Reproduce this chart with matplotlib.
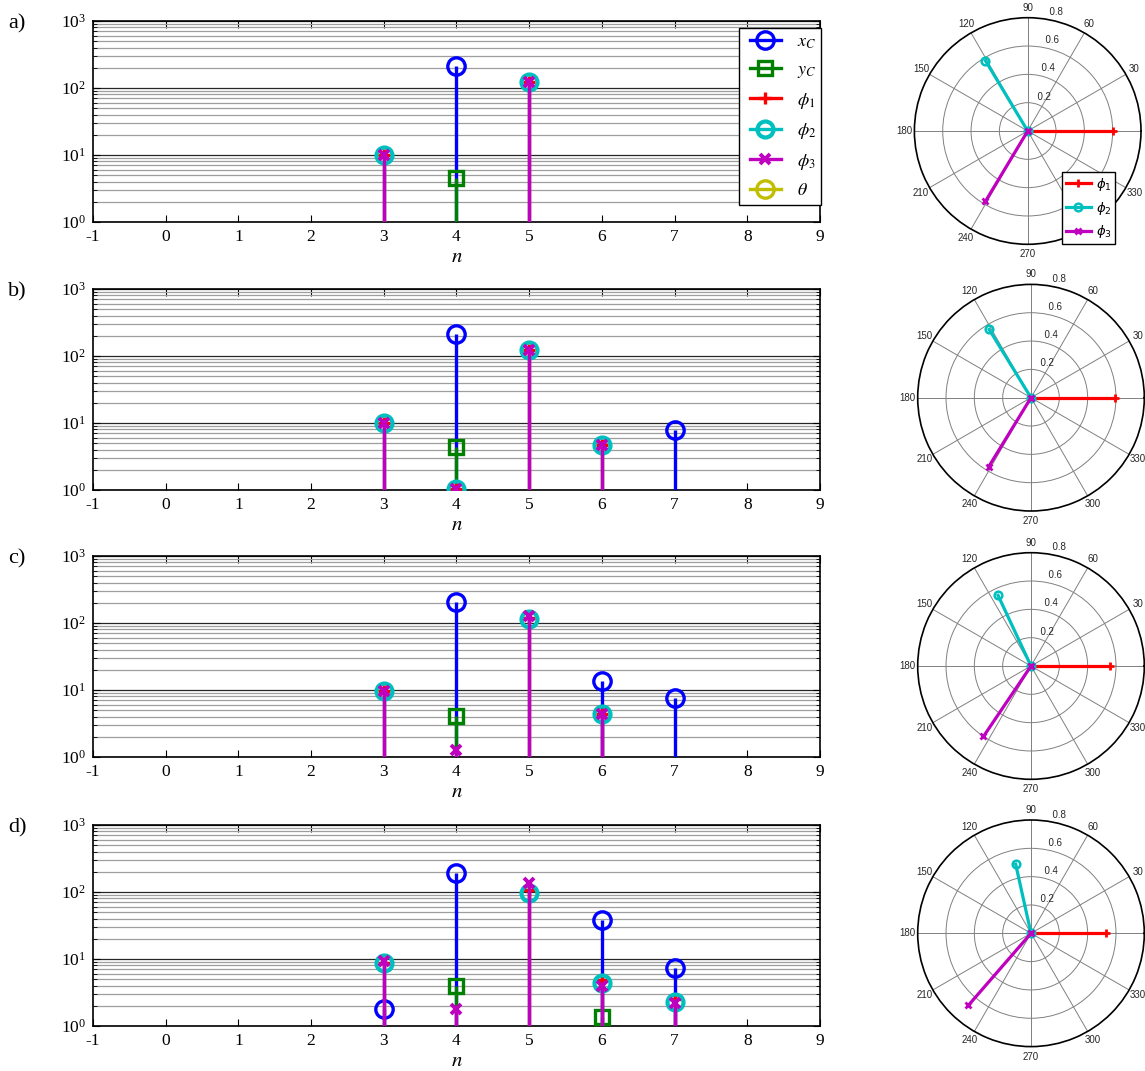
import numpy as np
import matplotlib
matplotlib.use('Agg')
import matplotlib.pyplot as plt
from matplotlib.lines import Line2D
from matplotlib.legend_handler import HandlerLine2D
from matplotlib.font_manager import FontProperties
from matplotlib.ticker import LogLocator, LogFormatterMathtext, NullFormatter

plt.rcParams['font.family'] = 'Liberation Serif'
plt.rcParams['mathtext.fontset'] = 'stix'
plt.rcParams['axes.unicode_minus'] = False

panel_labels = ['a)', 'b)', 'c)', 'd)']

# stem data per panel: sample index n and magnitude (log axis floor is 1)
xc_n = [[4], [4, 7], [4, 6, 7], [3, 4, 6, 7]]
xc_val = [[210], [211, 7.9], [203, 13.8, 7.6], [1.78, 190, 38, 7.3]]
yc_n = [[4], [4], [4], [4, 6]]
yc_val = [[4.5], [4.4], [4.1], [3.9, 1.35]]
phi1_n = [[3, 5], [3, 4, 5, 6], [3, 5, 6], [3, 5, 6, 7]]
phi1_val = [[10, 124], [10.1, 1.02, 123, 4.65], [9.5, 117, 4.4], [8.8, 107, 4.9, 2.5]]
phi2_n = [[3, 5], [3, 4, 5, 6], [3, 5, 6], [3, 5, 6, 7]]
phi2_val = [[10, 124], [10.1, 1.02, 123, 4.65], [9.5, 115, 4.4], [8.6, 98, 4.4, 2.3]]
phi3_n = [[3, 5], [3, 4, 5, 6], [3, 4, 5, 6], [3, 4, 5, 6, 7]]
phi3_val = [[10, 124], [10.1, 1.02, 123, 4.65], [9.5, 1.29, 128, 4.4], [9.3, 1.78, 138, 3.95, 2.2]]
theta_n = [0, 1, 2, 3, 4, 5, 6, 7, 8]
theta_val = [0.5, 0.5, 0.5, 0.5, 0.5, 0.5, 0.5, 0.5, 0.5]

# phasors for the polar plots (magnitude, angle in degrees)
phi1_mag = [0.60, 0.59, 0.56, 0.53]
phi1_ang = [0, 0, 0, 0]
phi2_mag = [0.58, 0.565, 0.55, 0.50]
phi2_ang = [121, 121.5, 115, 102.5]
phi3_mag = [0.58, 0.57, 0.60, 0.675]
phi3_ang = [239, 238.5, 236, 229]

# angle labels drawn round each polar plot (0 falls off the right edge of the figure)
polar_angles = [30, 60, 90, 120, 150, 180, 210, 240, 270, 300, 330]
polar_rings = [0.2, 0.4, 0.6, 0.8]

C_B = (0, 0, 1)
C_G = (0, 0.5, 0)
C_R = (1, 0, 0)
C_C = (0, 0.75, 0.75)
C_M = (0.75, 0, 0.75)
C_Y = (0.75, 0.75, 0)

stem_styles = [
    # color, marker, ms, mew, label
    (C_B, 'o', 12.5, 2.4, r'$x_C$'),
    (C_G, 's', 10, 2.4, r'$y_C$'),
    (C_R, '+', 9, 2.4, r'$\phi_1$'),
    (C_C, 'o', 11.5, 3.0, r'$\phi_2$'),
    (C_M, 'x', 7, 2.8, r'$\phi_3$'),
    (C_Y, 'o', 12.5, 2.4, r'$\theta$'),
]


class StemHandler(HandlerLine2D):
    def get_xdata(self, legend, xdescent, ydescent, width, height, fontsize):
        xm = -xdescent + width * 0.78
        return np.array([-xdescent + width * 0.12, xm]), np.array([xm])


def draw_stems(ax, n, vals, style, z):
    color, marker, ms, mew, _ = style
    ml, sl, bl = ax.stem(n, vals, bottom=1, basefmt=' ')
    sl.set_color(color)
    sl.set_linewidth(2.4)
    sl.set_zorder(z)
    ml.set_color(color)
    ml.set_marker(marker)
    ml.set_markersize(ms)
    ml.set_markerfacecolor('none')
    ml.set_markeredgewidth(mew)
    ml.set_zorder(z + 0.5)
    bl.set_visible(False)


def stem_panel(ax, k, with_legend):
    series = [(xc_n[k], xc_val[k]), (yc_n[k], yc_val[k]), (phi1_n[k], phi1_val[k]),
              (phi2_n[k], phi2_val[k]), (phi3_n[k], phi3_val[k]), (theta_n, theta_val)]
    zs = [3, 4, 5, 6, 7, 2.5]
    for (n, v), st, z in zip(series, stem_styles, zs):
        draw_stems(ax, n, v, st, z)
    ax.set_yscale('log')
    ax.set_ylim(1, 1000)
    ax.set_xlim(-1, 9)
    ax.set_xticks(np.arange(-1, 10))
    ax.yaxis.set_major_locator(LogLocator(base=10, numticks=10))
    ax.yaxis.set_major_formatter(LogFormatterMathtext())
    ax.yaxis.set_minor_locator(LogLocator(base=10, subs=np.arange(2, 10), numticks=10))
    ax.yaxis.set_minor_formatter(NullFormatter())
    ax.tick_params(which='both', direction='in', top=True, right=True, labelsize=12.5, pad=5)
    ax.tick_params(which='major', length=5, width=0.8)
    ax.tick_params(which='minor', length=3, width=0.6)
    ax.grid(True, which='major', axis='y', color='0.15', linewidth=0.9)
    ax.grid(True, which='minor', axis='y', color='0.62', linewidth=0.9)
    ax.set_axisbelow(True)
    for sp in ax.spines.values():
        sp.set_linewidth(1.2)
    ax.set_xlabel('$n$', fontsize=15, labelpad=2)
    if with_legend:
        handles = [Line2D([], [], color=c, lw=2.4, marker=m, ms=ms, mfc='none', mew=mew)
                   for c, m, ms, mew, _ in stem_styles]
        labels = [s[4] for s in stem_styles]
        leg = ax.legend(handles, labels, loc='upper right', bbox_to_anchor=(1.002, 0.965),
                        borderaxespad=0, fontsize=13, handlelength=2.6, handletextpad=0.3,
                        labelspacing=0.58, borderpad=0.3, fancybox=False, framealpha=1,
                        edgecolor='black', handler_map={Line2D: StemHandler()})
        leg.get_frame().set_linewidth(1.0)
        leg.set_zorder(20)


def polar_panel(pax, k, with_legend):
    pax.set_ylim(0, 0.8)
    pax.set_yticks([0.2, 0.4, 0.6])
    pax.set_yticklabels([])
    pax.set_xticks(np.deg2rad(np.arange(0, 360, 30)))
    pax.set_xticklabels([])
    pax.grid(True, color='0.5', linewidth=0.7)
    pax.spines['polar'].set_linewidth(1.2)
    for ang in polar_angles:
        pax.text(np.deg2rad(ang), 0.87, str(ang), ha='center', va='center',
                 fontsize=7, family='Liberation Sans', color='0.15')
    for r in polar_rings:
        pax.text(np.deg2rad(82), r + 0.01, '  %.1f' % r, ha='left', va='bottom',
                 fontsize=7, family='Liberation Sans', color='0.15')
    phasors = [(phi1_mag[k], phi1_ang[k], C_R, '+', 6, 2.0, r'$\phi_1$'),
               (phi2_mag[k], phi2_ang[k], C_C, 'o', 5.5, 1.8, r'$\phi_2$'),
               (phi3_mag[k], phi3_ang[k], C_M, 'x', 4.5, 2.0, r'$\phi_3$')]
    lines = []
    for mag, ang, c, m, ms, mew, lab in phasors:
        th = np.deg2rad(ang)
        ln, = pax.plot([th, th], [0, mag], color=c, lw=2.3, marker=m, ms=ms,
                       mfc='none', mew=mew, label=lab, clip_on=False)
        lines.append(ln)
    if with_legend:
        leg = pax.legend(handles=lines, loc='upper left', bbox_to_anchor=(0.9275, 0.8394),
                         bbox_transform=pax.figure.transFigure, borderaxespad=0,
                         prop=FontProperties(family='Liberation Sans', size=9.5,
                                             math_fontfamily='dejavusans'),
                         handlelength=1.9, handletextpad=0.35, labelspacing=0.5,
                         borderpad=0.3, fancybox=False, framealpha=1, edgecolor='black')
        leg.get_frame().set_linewidth(1.0)


fig = plt.figure(figsize=(11.45, 10.71), dpi=100)
W, H = 1145.0, 1071.0
stem_tops = [21, 289, 556, 825]
polar_centers = [(1027.7, 131), (1031, 397.7), (1031, 666), (1031, 933.3)]
R = 113.3

for k in range(4):
    top = stem_tops[k]
    ax = fig.add_axes([93 / W, 1 - (top + 201) / H, 727 / W, 201 / H])
    stem_panel(ax, k, k == 0)
    fig.text(8 / W, 1 - (top + 3) / H, panel_labels[k], fontsize=16, va='center', ha='left')
    cx, cy = polar_centers[k]
    pax = fig.add_axes([(cx - R) / W, 1 - (cy + R) / H, 2 * R / W, 2 * R / H], projection='polar')
    polar_panel(pax, k, k == 0)

fig.savefig('out.png', dpi=100)
